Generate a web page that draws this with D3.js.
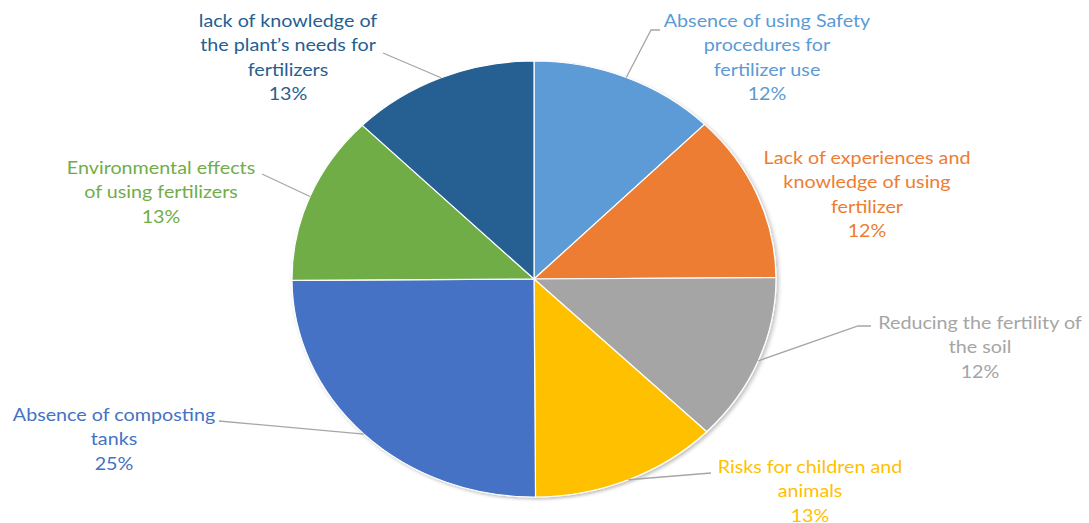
<!DOCTYPE html>
<html>
<head>
<meta charset="utf-8">
<script src="https://cdn.jsdelivr.net/npm/d3@7"></script>
<style>
  body { margin: 0; background: #fff; }
  svg text { font-family: Lato, "Open Sans", sans-serif; }
</style>
</head>
<body>
<svg></svg>
<script>
var width = 1089;
var height = 523;

// clockwise from 12 o'clock
var categories = [
  ["Absence of using Safety", "procedures for", "fertilizer use"],
  ["Lack of experiences and", "knowledge of using", "fertilizer"],
  ["Reducing the fertility of", "the soil"],
  ["Risks for children and", "animals"],
  ["Absence of composting", "tanks"],
  ["Environmental effects", "of using fertilizers"],
  ["lack of knowledge of", "the plant\u2019s needs for", "fertilizers"]
];
var values = [12.45, 12.45, 12.45, 12.55, 25, 12.55, 12.55];
var colors = ["#5B9BD5", "#ED7D31", "#A5A5A5", "#FFC000", "#4472C4", "#70AD47", "#255E91"];

// label layout: text centre x, first line y, leader elbow (null = no leader)
var labelPos = [
  { x: 767, y: 21, elbow: [[660, 30], [651, 30]] },
  { x: 867, y: 158, elbow: null },
  { x: 980, y: 323, elbow: [[871, 326], [858, 326]] },
  { x: 810, y: 467, elbow: [[711, 473]] },
  { x: 114, y: 415, elbow: [[219, 421]] },
  { x: 161, y: 168, elbow: [[262, 174]] },
  { x: 288, y: 21, elbow: [[383, 53]] }
];

var cx = 534, cy = 279, rx = 242, ry = 218;
var textStretch = 1.16;

var svg = d3.select("svg").attr("width", width).attr("height", height);

var defs = svg.append("defs");
var filter = defs.append("filter").attr("id", "shadow")
  .attr("x", "-10%").attr("y", "-10%").attr("width", "120%").attr("height", "120%");
filter.append("feDropShadow")
  .attr("dx", 2).attr("dy", 2).attr("stdDeviation", 2)
  .attr("flood-color", "#000").attr("flood-opacity", 0.25);

var total = d3.sum(values);
var pct = d3.format(".0%");

var pie = d3.pie().sort(null).value(d => d);
var arcs = pie(values);
var arc = d3.arc().innerRadius(0).outerRadius(rx);

var g = svg.append("g")
  .attr("transform", "translate(" + cx + "," + cy + ") scale(1," + (ry / rx) + ")");

g.append("g").attr("filter", "url(#shadow)")
  .selectAll("path")
  .data(arcs)
  .enter()
  .append("path")
  .attr("d", arc)
  .attr("fill", (d, i) => colors[i])
  .attr("stroke", "#fff")
  .attr("stroke-width", 1.2)
  .attr("vector-effect", "non-scaling-stroke");

// leader lines
arcs.forEach(function(d, i) {
  var p = labelPos[i];
  if (!p.elbow) return;
  var mid = (d.startAngle + d.endAngle) / 2;
  var edge = [cx + rx * Math.sin(mid), cy - ry * Math.cos(mid)];
  var pts = p.elbow.concat([edge]);
  svg.append("path")
    .attr("d", d3.line()(pts))
    .attr("fill", "none")
    .attr("stroke", "#a6a6a6")
    .attr("stroke-width", 1.3);
});

// labels (stretched horizontally like the original)
arcs.forEach(function(d, i) {
  var p = labelPos[i];
  var lines = categories[i].concat([pct(values[i] / total)]);
  var t = svg.append("text")
    .attr("transform", "translate(" + p.x + "," + p.y + ") scale(" + textStretch + ",1)")
    .attr("text-anchor", "middle")
    .attr("fill", colors[i])
    .style("font-size", "17px");
  lines.forEach(function(l, j) {
    t.append("tspan")
      .attr("x", 0)
      .attr("y", j * 24.3)
      .attr("dy", "0.35em")
      .text(l);
  });
});
</script>
</body>
</html>
